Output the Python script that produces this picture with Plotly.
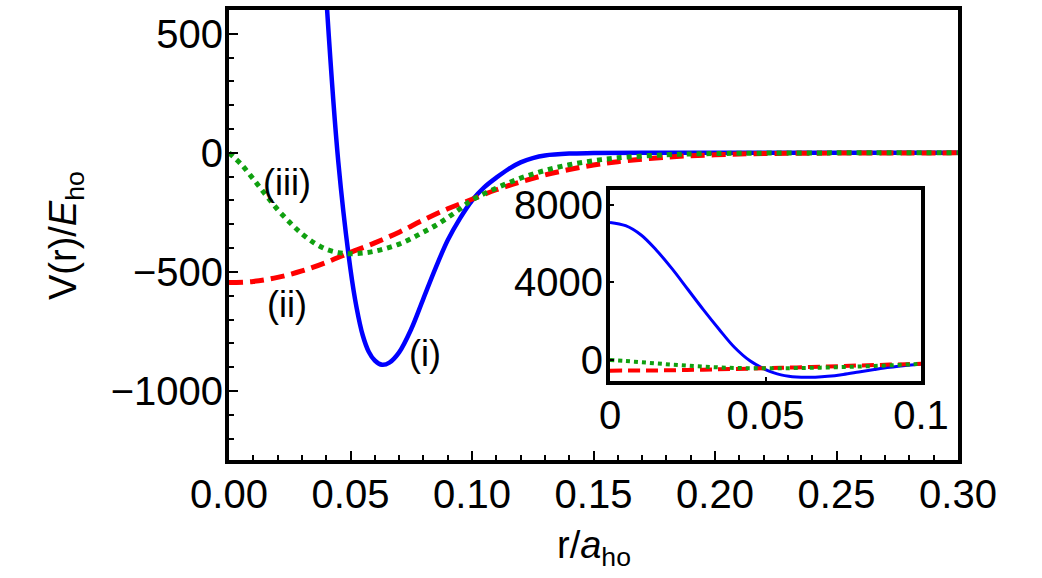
import plotly.graph_objects as go

# ---- data ----
r_i = [0, 0.005, 0.01, 0.015, 0.02, 0.025, 0.03, 0.035, 0.04, 0.045, 0.05, 0.0525, 0.055,
       0.0575, 0.06, 0.063, 0.066, 0.07, 0.075, 0.08, 0.085, 0.09, 0.095, 0.1, 0.105, 0.11,
       0.115, 0.12, 0.125, 0.13, 0.14, 0.15, 0.17, 0.2, 0.25, 0.3]
v_i = [7100, 6930, 6450, 5650, 4700, 3650, 2600, 1600, 660, -40, -490, -650, -765,
       -835, -872, -890, -881, -838, -740, -612, -484, -367, -276, -200, -145, -104,
       -68, -40, -22, -11, -3, -1, 0, 0, 0, 0]

r_ii = [0, 0.01, 0.02, 0.03, 0.04, 0.05, 0.06, 0.07, 0.08, 0.09, 0.1, 0.11, 0.12,
        0.13, 0.14, 0.15, 0.16, 0.18, 0.2, 0.22, 0.25, 0.3]
v_ii = [-545, -540, -523, -496, -460, -418, -378, -333, -282, -235, -195, -155, -122,
        -93, -70, -51, -37, -18, -8, -3, -1, 0]

r_iii = [0, 0.005, 0.01, 0.015, 0.02, 0.025, 0.03, 0.035, 0.04, 0.045, 0.05, 0.055,
         0.06, 0.065, 0.07, 0.075, 0.08, 0.085, 0.09, 0.095, 0.1, 0.11, 0.12, 0.13,
         0.14, 0.15, 0.16, 0.18, 0.2, 0.25, 0.3]
v_iii = [0, -48, -110, -175, -238, -292, -340, -378, -405, -419, -424, -421,
         -413, -400, -383, -360, -333, -305, -272, -236, -198, -148, -106, -74,
         -50, -33, -21, -8, -3, 0, 0]

x_ticks = [0, 0.05, 0.1, 0.15, 0.2, 0.25, 0.3]
x_ticktext = ["0.00", "0.05", "0.10", "0.15", "0.20", "0.25", "0.30"]
y_ticks = [-1000, -500, 0, 500]
inset_x_ticks = [0, 0.05, 0.1]
inset_x_ticktext = ["0", "0.05", "0.1"]
inset_y_ticks = [0, 4000, 8000]

labels = ["(i)", "(ii)", "(iii)"]
label_r = [0.0807, 0.0239, 0.0239]
label_v = [-843, -636, -123]

BLUE = "#0000ff"
RED = "#ff0000"
GREEN = "#10a010"
FONT = "Liberation Sans"

fig = go.Figure()

SM = 1.0
# main curves
fig.add_trace(go.Scatter(x=r_i, y=v_i, mode="lines", xaxis="x", yaxis="y",
                         line=dict(color=BLUE, width=4.5, shape="spline", smoothing=SM)))
fig.add_trace(go.Scatter(x=r_ii, y=v_ii, mode="lines", xaxis="x", yaxis="y",
                         line=dict(color=RED, width=5, dash="14px,7px", shape="spline", smoothing=SM)))
fig.add_trace(go.Scatter(x=r_iii, y=v_iii, mode="lines", xaxis="x", yaxis="y",
                         line=dict(color=GREEN, width=5, dash="5px,5px", shape="spline", smoothing=SM)))

# inset curves
fig.add_trace(go.Scatter(x=r_i, y=v_i, mode="lines", xaxis="x2", yaxis="y2",
                         line=dict(color=BLUE, width=3, shape="spline", smoothing=SM)))
fig.add_trace(go.Scatter(x=r_ii, y=v_ii, mode="lines", xaxis="x2", yaxis="y2",
                         line=dict(color=RED, width=4, dash="12px,6px", shape="spline", smoothing=SM)))
fig.add_trace(go.Scatter(x=r_iii, y=v_iii, mode="lines", xaxis="x2", yaxis="y2",
                         line=dict(color=GREEN, width=4, dash="4px,4px", shape="spline", smoothing=SM)))

W, H = 1042, 578
tickfont = dict(family=FONT, size=40, color="black")

common = dict(showline=True, linewidth=4, linecolor="black", mirror=True,
              showgrid=False, zeroline=False, tickfont=tickfont, automargin=False)

fig.update_layout(
    template="none",
    width=W, height=H, autosize=False,
    margin=dict(l=0, r=0, t=0, b=0, pad=0),
    paper_bgcolor="white", plot_bgcolor="rgba(0,0,0,0)",
    showlegend=False,
    font=dict(family=FONT, color="black"),
    xaxis=dict(domain=[229 / W, 958 / W], range=[0, 0.3], anchor="y",
               tickmode="array", tickvals=x_ticks, ticktext=x_ticktext,
               ticks="inside", ticklen=9, tickwidth=2, tickcolor="black",
               ticklabelstandoff=-4,
               minor=dict(ticks="inside", ticklen=5, tickwidth=2, dtick=0.01, tickcolor="black"),
               **common),
    yaxis=dict(domain=[1 - 460 / H, 1 - 10 / H], range=[-1290, 600], anchor="x",
               tickmode="array", tickvals=y_ticks,
               ticks="inside", ticklen=9, tickwidth=2, tickcolor="black",
               ticklabelstandoff=-6,
               minor=dict(ticks="inside", ticklen=5, tickwidth=2, dtick=100, tickcolor="black"),
               **common),
    xaxis2=dict(domain=[610 / W, 921 / W], range=[0, 0.1], anchor="y2",
                tickmode="array", tickvals=inset_x_ticks, ticktext=inset_x_ticktext,
                ticks="inside", ticklen=4, tickwidth=2, tickcolor="black",
                ticklabelstandoff=-4,
                **common),
    yaxis2=dict(domain=[1 - 381 / H, 1 - 190 / H], range=[-1080, 8770], anchor="x2",
                tickmode="array", tickvals=inset_y_ticks,
                ticks="inside", ticklen=4, tickwidth=2, tickcolor="black",
                ticklabelstandoff=-5,
                **common),
)

# inset background (white) so it sits cleanly on the main plot
fig.add_shape(type="rect", xref="paper", yref="paper",
              x0=610 / W, x1=921 / W, y0=1 - 381 / H, y1=1 - 190 / H,
              fillcolor="white", line=dict(width=0), layer="below")

for txt, xr, yv in zip(labels, label_r, label_v):
    fig.add_annotation(x=xr, y=yv, xref="x", yref="y", text=txt, showarrow=False,
                       font=dict(family=FONT, size=36, color="black"))

fig.add_annotation(x=66 / W, y=1 - 236 / H, xref="paper", yref="paper",
                   xanchor="center", yanchor="middle",
                   text="V(r)/<i>E</i><sub>ho</sub>", textangle=-90, showarrow=False,
                   font=dict(family=FONT, size=38, color="black"))
fig.add_annotation(x=594 / W, y=1 - 548 / H, xref="paper", yref="paper",
                   xanchor="center", yanchor="middle",
                   text="r/<i>a</i><sub>ho</sub>", showarrow=False,
                   font=dict(family=FONT, size=38, color="black"))

fig.write_html("out.html")
